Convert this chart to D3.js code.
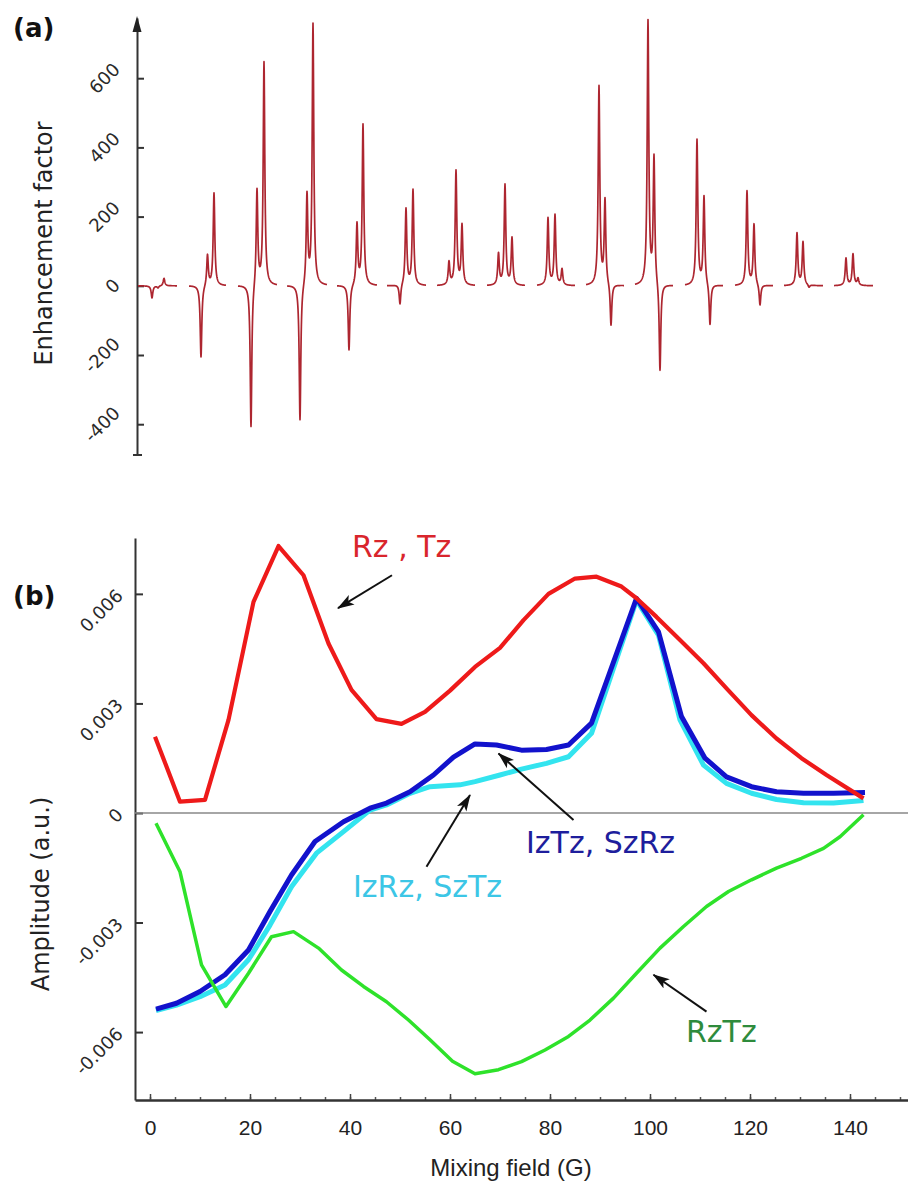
<!DOCTYPE html>
<html><head><meta charset="utf-8">
<script src="https://cdn.jsdelivr.net/npm/d3@7"></script>
<style>body{margin:0;background:#fff} svg{display:block}</style>
</head><body>
<svg id="c" width="908" height="1182"></svg>
<script>
// ---------- Panel (a): spectra at successive mixing fields ----------
const groupStart = [-2.4, 7.8, 17.6, 27.4, 37.4, 47.4, 57.4, 67.4, 77.4, 87.2, 97.0, 107.0, 117.0, 126.8, 136.8];
const groupEnd   = [5.4, 15.2, 25.4, 35.4, 45.4, 55.2, 65.0, 75.0, 85.0, 94.8, 104.6, 114.6, 124.6, 134.6, 144.6];
const peakField = [
  [0.4, 1.6, 2.8],
  [10.2, 11.5, 12.8],
  [20.2, 21.4, 22.8],
  [30.0, 31.4, 32.6],
  [39.8, 41.4, 42.6],
  [50.0, 51.2, 52.6],
  [59.8, 61.2, 62.4],
  [69.7, 71.0, 72.4],
  [79.6, 81.0, 82.4],
  [89.8, 91.0, 92.2],
  [99.6, 100.8, 102.0],
  [109.4, 110.8, 112.0],
  [119.4, 120.8, 122.0],
  [129.4, 130.6, 131.8],
  [139.2, 140.6, 141.6]
];
const peakHeight = [
  [-35, -6, 22],
  [-209, 90, 268],
  [-417, 280, 645],
  [-396, 262, 755],
  [-190, 176, 465],
  [-59, 222, 276],
  [66, 330, 172],
  [90, 290, 136],
  [194, 203, 46],
  [574, 244, -123],
  [762, 368, -258],
  [420, 256, -120],
  [272, 176, -61],
  [151, 125, -8],
  [79, 91, 20]
];
const aTicks = [-400, -200, 0, 200, 400, 600];

// ---------- Panel (b): amplitudes vs mixing field ----------
const redField = [1, 6, 11, 15.7, 20.7, 25.7, 30.7, 35.7, 40.3, 45.3, 50.3, 55, 60, 65, 70, 74.7, 79.7, 85, 89.3, 94.3, 97.3, 101.3, 106, 110.7, 115.3, 120.3, 125.3, 130.3, 135.3, 142.7];
const redAmp   = [0.00209, 0.00031, 0.00036, 0.00255, 0.00578, 0.00731, 0.00651, 0.00464, 0.00337, 0.00257, 0.00244, 0.00277, 0.00335, 0.0040, 0.00452, 0.00528, 0.0060, 0.00642, 0.00647, 0.0062, 0.00588, 0.00537, 0.00474, 0.0041, 0.00341, 0.00268, 0.00204, 0.0015, 0.00104, 0.0004];

const blueField = [1.2, 5.3, 10, 15, 19.7, 24, 28.3, 33, 38.7, 44, 47.3, 52, 56.7, 60.7, 65, 69.3, 74.3, 79.3, 83.7, 88.3, 97.3, 101.7, 106.3, 111, 115.3, 120.3, 125.3, 130.7, 136.7, 143];
const blueAmp   = [-0.00537, -0.00521, -0.00489, -0.00443, -0.00375, -0.0027, -0.0017, -0.00078, -0.00024, 0.00013, 0.00027, 0.00058, 0.00104, 0.00153, 0.00189, 0.00186, 0.00172, 0.00174, 0.00186, 0.00246, 0.00588, 0.00496, 0.00264, 0.0015, 0.00099, 0.00072, 0.00058, 0.00054, 0.00054, 0.00056];

const cyanField = [1.2, 5.3, 10, 15, 19.7, 24, 28.3, 33.3, 38.7, 44, 47.3, 52, 56, 62, 65, 70, 74.3, 79.3, 83.7, 88.3, 97.3, 101.7, 106, 110.7, 115.3, 120.3, 125.3, 130.7, 136.7, 142.7];
const cyanAmp   = [-0.00541, -0.00526, -0.00503, -0.00471, -0.00402, -0.00307, -0.00202, -0.0011, -0.00051, 0.00008, 0.00022, 0.00054, 0.00072, 0.00077, 0.00086, 0.00104, 0.0012, 0.00136, 0.00154, 0.00218, 0.00583, 0.00487, 0.00255, 0.00131, 0.00081, 0.00054, 0.00037, 0.00028, 0.00027, 0.00034];

const greenField = [1.2, 6, 10.3, 15.2, 19.7, 24.3, 28.7, 33.7, 38.3, 42.7, 47.3, 51.7, 56, 60.5, 65, 69.7, 74.3, 79, 83.7, 88, 92.7, 97.3, 102, 106.7, 111.3, 115.7, 120.3, 125.3, 130.3, 134.7, 138, 142.7];
const greenAmp   = [-0.00028, -0.00161, -0.00416, -0.0053, -0.00439, -0.00339, -0.00325, -0.0037, -0.0043, -0.00475, -0.00517, -0.00567, -0.00621, -0.0068, -0.00714, -0.00703, -0.00681, -0.00649, -0.00612, -0.00567, -0.00507, -0.00439, -0.0037, -0.00311, -0.00256, -0.00215, -0.00183, -0.00151, -0.00124, -0.00097, -0.00065, -0.00005];

const bTicks = [-0.006, -0.003, 0, 0.003, 0.006];
const xTicks = [0, 20, 40, 60, 80, 100, 120, 140];
const xMinorTicks = [0, 5, 10, 15, 20, 25, 30, 35, 40, 45, 50, 55, 60, 65, 70, 75, 80, 85, 90, 95, 100, 105, 110, 115, 120, 125, 130, 135, 140, 145, 150];

// annotations (data coordinates)
const labelText  = ["Rz , Tz", "IzTz, SzRz", "IzRz, SzTz", "RzTz"];
const labelField = [40.4, 75.2, 40.6, 107.2];
const labelAmp   = [0.00701, -0.0011, -0.0023, -0.00627];
const arrowFrom  = [[48.4, 0.00651], [84.7, -0.00019], [55.3, -0.00147], [111.3, -0.00544]];
const arrowTo    = [[37.6, 0.00561], [69.7, 0.00163], [64.0, 0.00049], [100.7, -0.00443]];
const labelColor = ["#d9252c", "#1e1e9c", "#3cc6e6", "#2e8b3c"];

// ---------- drawing ----------
const svg = d3.select("#c");
const W = 908;
const x  = d3.scaleLinear().domain([-3, 151.6]).range([135, 908]);
const yA = d3.scaleLinear().domain([-489, 774]).range([455, 18]);
const yB = d3.scaleLinear().domain([-0.00786, 0.00753]).range([1100, 538]);

const defs = svg.append("defs");
defs.append("marker").attr("id", "ah").attr("viewBox", "0 0 17 12")
  .attr("refX", 16).attr("refY", 6).attr("markerWidth", 17).attr("markerHeight", 12)
  .attr("markerUnits", "userSpaceOnUse").attr("orient", "auto")
  .append("path").attr("d", "M0,0.5 L17,6 L0,11.5 L4,6 Z").attr("fill", "#111");

// panel labels
svg.append("text").attr("x", 13).attr("y", 37).attr("font-family", "DejaVu Sans")
  .attr("font-weight", "bold").attr("font-size", 26).attr("fill", "#111").text("(a)");
svg.append("text").attr("x", 13).attr("y", 605).attr("font-family", "DejaVu Sans")
  .attr("font-weight", "bold").attr("font-size", 26).attr("fill", "#111").text("(b)");

// ---- panel (a)
const axA = x(-2.6);
const gA = svg.append("g").attr("transform", `translate(${axA},0)`)
  .call(d3.axisLeft(yA).tickValues(aTicks).tickSize(-7).tickSizeOuter(0).tickFormat(""));
gA.selectAll("path,line").attr("stroke", "#333").attr("stroke-width", 2);
const aTop = yA.range()[1], aBot = yA.range()[0];
svg.append("path").attr("d", `M${axA},${aTop - 2} L${axA - 4.5},${aTop + 14} L${axA + 4.5},${aTop + 14} Z`).attr("fill", "#222");
svg.append("line").attr("x1", axA - 4).attr("x2", axA + 5).attr("y1", aBot).attr("y2", aBot).attr("stroke", "#333").attr("stroke-width", 2);

aTicks.forEach(v => {
  const t = svg.append("text").attr("text-anchor", "end").attr("font-family", "DejaVu Sans")
    .attr("font-size", 18).attr("fill", "#2a2a2a").text(String(v));
  const L = t.node().getComputedTextLength();
  t.attr("transform", `translate(${axA - 16},${yA(v) - 0.354 * (L - 13)}) rotate(-45)`);
});
svg.append("text").attr("transform", `translate(52,${(120 + 367) / 2}) rotate(-90)`)
  .attr("text-anchor", "middle").attr("font-family", "DejaVu Sans").attr("font-size", 24)
  .attr("fill", "#222").text("Enhancement factor");

const gamma = 0.19;
const specLine = d3.line().x(d => x(d[0])).y(d => yA(d[1]));
groupStart.forEach((s, i) => {
  const e = groupEnd[i];
  const xs = [];
  for (let f = s; f <= e + 1e-9; f += 0.04) xs.push(f);
  peakField[i].forEach(p => xs.push(p));
  xs.sort((a, b) => a - b);
  const pts = xs.map(f => [f, d3.sum(peakField[i], (p, k) => peakHeight[i][k] * gamma * gamma / ((f - p) * (f - p) + gamma * gamma))]);
  svg.append("path").attr("d", specLine(pts)).attr("fill", "none")
    .attr("stroke", "#ad2630").attr("stroke-width", 1.7).attr("stroke-linejoin", "round");
});

// ---- panel (b)
const gY = svg.append("g").attr("transform", `translate(${x(-3)},0)`)
  .call(d3.axisLeft(yB).tickValues(bTicks).tickSize(-8).tickSizeOuter(0).tickFormat(""));
gY.selectAll("path,line").attr("stroke", "#333").attr("stroke-width", 2);

bTicks.forEach(v => {
  svg.append("text").attr("text-anchor", "end").attr("font-family", "DejaVu Sans")
    .attr("font-size", 18).attr("fill", "#2a2a2a")
    .attr("transform", `translate(${x(-3) - 11},${yB(v) + 3}) rotate(-45)`).text(String(v));
});
svg.append("text").attr("transform", `translate(49,${(795 + 993) / 2}) rotate(-90)`)
  .attr("text-anchor", "middle").attr("font-family", "DejaVu Sans").attr("font-size", 24)
  .attr("fill", "#222").text("Amplitude (a.u.)");

// zero line
svg.append("line").attr("x1", x(-3)).attr("x2", W).attr("y1", yB(0)).attr("y2", yB(0))
  .attr("stroke", "#888").attr("stroke-width", 1.5);

// x axis
const gXm = svg.append("g").attr("transform", `translate(0,${yB.range()[0]})`)
  .call(d3.axisBottom(x).tickValues(xMinorTicks).tickSize(-3).tickSizeOuter(0).tickFormat(""));
gXm.selectAll("path").remove();
gXm.selectAll("line").attr("stroke", "#555").attr("stroke-width", 1.5);
const gX = svg.append("g").attr("transform", `translate(0,${yB.range()[0]})`)
  .call(d3.axisBottom(x).tickValues(xTicks).tickSize(-6).tickSizeOuter(0));
gX.selectAll("path").attr("stroke", "#333").attr("stroke-width", 2.5);
gX.selectAll("line").attr("stroke", "#444").attr("stroke-width", 1.5);
gX.selectAll("text").attr("dy", null).attr("y", 35).attr("font-family", "Liberation Sans")
  .attr("font-size", 21).attr("fill", "#222");
svg.append("text").attr("x", 511).attr("y", 1176).attr("text-anchor", "middle")
  .attr("font-family", "Liberation Sans").attr("font-size", 24).attr("fill", "#222").text("Mixing field (G)");

const ln = d3.line().x(d => x(d[0])).y(d => yB(d[1]));
const series = [
  [cyanField, cyanAmp, "#33e4ef", 5],
  [blueField, blueAmp, "#1212cc", 5],
  [greenField, greenAmp, "#2ee22a", 3.5],
  [redField, redAmp, "#ee1a1a", 4.2]
];
series.forEach(([f, a, c, w]) => {
  svg.append("path").attr("d", ln(d3.zip(f, a))).attr("fill", "none")
    .attr("stroke", c).attr("stroke-width", w).attr("stroke-linejoin", "round").attr("stroke-linecap", "butt");
});

// annotations
labelText.forEach((t, i) => {
  svg.append("line").attr("x1", x(arrowFrom[i][0])).attr("y1", yB(arrowFrom[i][1]))
    .attr("x2", x(arrowTo[i][0])).attr("y2", yB(arrowTo[i][1]))
    .attr("stroke", "#111").attr("stroke-width", 2).attr("marker-end", "url(#ah)");
  svg.append("text").attr("x", x(labelField[i])).attr("y", yB(labelAmp[i]))
    .attr("font-family", "DejaVu Sans").attr("font-size", 30).attr("fill", labelColor[i]).text(t);
});
</script>
</body></html>
